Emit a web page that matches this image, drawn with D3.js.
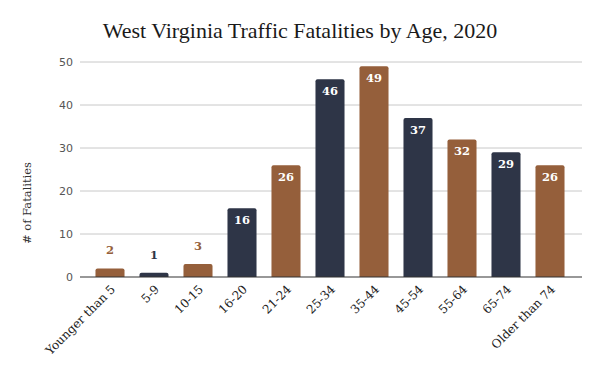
<!DOCTYPE html>
<html>
<head>
<meta charset="utf-8">
<script src="https://cdn.jsdelivr.net/npm/d3@7"></script>
<style>
  body { margin: 0; background: #fff; }
</style>
</head>
<body>
<svg width="600" height="371"></svg>
<script>
// categories and values
const ageGroups = ["Younger than 5", "5-9", "10-15", "16-20", "21-24", "25-34", "35-44", "45-54", "55-64", "65-74", "Older than 74"];
const fatalities = [2, 1, 3, 16, 26, 46, 49, 37, 32, 29, 26];
const yTicks = [0, 10, 20, 30, 40, 50];

const brown = "#955f3b";
const navy = "#2e3547";
const serif = "'DejaVu Serif', serif";

const svg = d3.select("svg");

const x = d3.scaleBand().domain(ageGroups).range([88, 572]).paddingInner(0.34).paddingOuter(0.17);
const y = d3.scaleLinear().domain([0, 50]).range([277, 62]);

// title
svg.append("text").attr("x", 300).attr("y", 38).attr("text-anchor", "middle")
  .style("font-family", "'Liberation Serif', serif").style("font-size", "22px").attr("fill", "#1a1a1a")
  .text("West Virginia Traffic Fatalities by Age, 2020");

// gridlines
svg.append("g").selectAll("line").data(yTicks.slice(1)).enter().append("line")
  .attr("x1", 80).attr("x2", 582)
  .attr("y1", d => y(d)).attr("y2", d => y(d))
  .style("stroke", "#c8c8c8").style("stroke-width", 1);

// y tick labels
svg.append("g").selectAll("text").data(yTicks).enter().append("text")
  .attr("x", 73).attr("y", d => y(d) + 4).attr("text-anchor", "end")
  .style("font-family", "'DejaVu Sans', sans-serif").style("font-size", "11px").attr("fill", "#555")
  .text(d => d);

// y axis title
svg.append("text").attr("transform", "translate(31,203) rotate(-90)").attr("text-anchor", "middle")
  .style("font-family", serif).style("font-size", "11.5px").attr("fill", "#333").text("# of Fatalities");

// bars, top corners rounded
function barPath(d, i) {
  const x0 = x(ageGroups[i]), w = x.bandwidth(), top = y(d), bot = y(0), r = Math.min(2, (bot - top) / 2);
  return `M${x0},${bot} L${x0},${top + r} Q${x0},${top} ${x0 + r},${top} L${x0 + w - r},${top} Q${x0 + w},${top} ${x0 + w},${top + r} L${x0 + w},${bot} Z`;
}
svg.append("g").selectAll("path").data(fatalities).enter().append("path")
  .attr("d", barPath)
  .style("fill", (d, i) => i % 2 === 0 ? brown : navy);

// baseline
svg.append("line").attr("x1", 80).attr("x2", 582).attr("y1", y(0)).attr("y2", y(0))
  .style("stroke", "#333").style("stroke-width", 1.2);

// value labels
svg.append("g").selectAll("text").data(fatalities).enter().append("text")
  .attr("x", (d, i) => x(ageGroups[i]) + x.bandwidth() / 2)
  .attr("y", d => d < 10 ? y(d) - 14 : y(d) + 16)
  .attr("text-anchor", "middle")
  .style("font-family", serif).style("font-size", "11.5px").style("font-weight", "bold")
  .attr("fill", (d, i) => d < 10 ? (i % 2 === 0 ? brown : navy) : "#fff")
  .text(d => d);

// x labels rotated
svg.append("g").selectAll("text").data(ageGroups).enter().append("text")
  .attr("transform", d => `translate(${x(d) + x.bandwidth() / 2 + 6},${y(0) + 13}) rotate(-45)`)
  .attr("text-anchor", "end")
  .style("font-family", serif).style("font-size", "12px").attr("fill", "#222")
  .text(d => d);
</script>
</body>
</html>
